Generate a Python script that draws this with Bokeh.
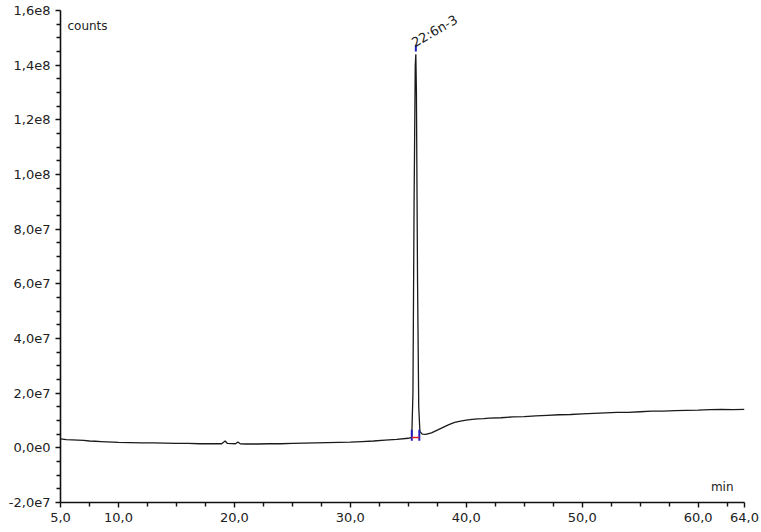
from bokeh.plotting import figure
from bokeh.models import FixedTicker, CustomJSTickFormatter, Label, Range1d
from bokeh.embed import file_html
from bokeh.resources import INLINE

# retention time (min) and detector signal (in 1e6 counts)
time_min = [5.0, 5.5, 6.0, 6.5, 7.0, 7.5, 8.0, 8.5, 9.0, 9.5, 10.0, 11.0, 12.0, 13.0, 14.0,
            15.0, 16.0, 17.0, 18.0, 18.9, 19.2, 19.4, 20.1, 20.3, 20.5, 21.0, 22.0, 23.0,
            24.0, 25.0, 26.0, 27.0, 28.0, 29.0, 30.0, 31.0, 32.0, 33.0, 34.0, 35.0, 35.3,
            35.4, 35.5, 35.6, 35.65, 35.7, 35.8, 35.9, 36.0, 36.2, 36.5, 37.0, 37.5, 38.0,
            38.5, 39.0, 39.5, 40.0, 40.5, 41.0, 41.5, 42.0, 43.0, 44.0, 45.0, 46.0, 47.0,
            48.0, 49.0, 50.0, 51.0, 52.0, 53.0, 54.0, 55.0, 56.0, 57.0, 58.0, 59.0, 60.0,
            61.0, 62.0, 63.0, 64.0]
signal_1e6 = [3.3, 3.0, 2.9, 2.8, 2.7, 2.5, 2.4, 2.3, 2.2, 2.1, 2.0, 1.9, 1.8, 1.8, 1.7,
              1.6, 1.6, 1.5, 1.5, 1.5, 2.5, 1.6, 1.5, 2.1, 1.5, 1.4, 1.4, 1.5,
              1.5, 1.6, 1.7, 1.8, 1.9, 2.0, 2.1, 2.3, 2.5, 2.8, 3.1, 3.5, 3.8,
              20.0, 90.0, 140.0, 144.0, 130.0, 60.0, 15.0, 6.0, 5.0, 4.9, 5.5, 6.5, 7.5,
              8.5, 9.3, 9.8, 10.1, 10.4, 10.6, 10.7, 10.9, 11.0, 11.3, 11.4, 11.7, 11.9,
              12.1, 12.2, 12.4, 12.6, 12.8, 13.0, 13.0, 13.2, 13.4, 13.4, 13.6, 13.7, 13.8,
              14.0, 14.1, 14.0, 14.1]

# integration marks of the identified peak
peak_name = "22:6n-3"
peak_apex_time = 35.65
peak_apex_1e6 = 144.0
peak_start_time = 35.3
peak_end_time = 35.95
peak_base_1e6 = 3.8

x_major = [5.0, 10.0, 20.0, 30.0, 40.0, 50.0, 60.0, 64.0]
x_minor = [7.5, 12.5, 15.0, 17.5, 22.5, 25.0, 27.5, 32.5, 35.0, 37.5, 42.5, 45.0, 47.5,
           52.5, 55.0, 57.5, 62.5]
y_major = [-2e7, 0, 2e7, 4e7, 6e7, 8e7, 1e8, 1.2e8, 1.4e8, 1.6e8]
y_minor = [v * 5e6 for v in range(-4, 33) if v % 4 != 0]

scale = 1e6
ys = [v * scale for v in signal_1e6]

p = figure(width=761, height=532, output_backend="svg", toolbar_location=None,
           x_range=Range1d(5.0, 64.0), y_range=Range1d(-2e7, 1.6e8),
           min_border_left=60, min_border_right=17, min_border_top=10, min_border_bottom=30)
p.outline_line_color = None
p.xgrid.visible = False
p.ygrid.visible = False
p.background_fill_color = "white"

p.line(time_min, ys, line_color="#1a1a1a", line_width=1.3)

# integration markers
p.segment(x0=[peak_start_time, peak_end_time], y0=[peak_base_1e6 * scale - 1.2e6] * 2,
          x1=[peak_start_time, peak_end_time], y1=[peak_base_1e6 * scale + 2.8e6] * 2,
          line_color="#2020c0", line_width=2)
p.segment(x0=[peak_start_time], y0=[peak_base_1e6 * scale], x1=[peak_end_time],
          y1=[peak_base_1e6 * scale], line_color="#e02020", line_width=1.5)
p.segment(x0=[peak_apex_time], y0=[peak_apex_1e6 * scale + 1.0e6], x1=[peak_apex_time],
          y1=[peak_apex_1e6 * scale + 3.5e6], line_color="#2020c0", line_width=2)

p.add_layout(Label(x=peak_apex_time + 0.05, y=peak_apex_1e6 * scale + 1.5e6, text=peak_name,
                   angle=30, angle_units="deg", text_font="DejaVu Sans", text_font_size="13px",
                   text_color="#222222", text_baseline="bottom", text_align="left"))
p.add_layout(Label(x=5.6, y=1.545e8, text="counts", text_font="DejaVu Sans",
                   text_font_size="12px", text_color="#222222", text_baseline="alphabetic"))
p.add_layout(Label(x=61.1, y=-1.45e7, text="min", text_font="DejaVu Sans",
                   text_font_size="12px", text_color="#222222", text_baseline="alphabetic"))

p.xaxis.ticker = FixedTicker(ticks=x_major, minor_ticks=x_minor)
p.yaxis.ticker = FixedTicker(ticks=y_major, minor_ticks=y_minor)
p.xaxis.formatter = CustomJSTickFormatter(code="return tick.toFixed(1).replace('.', ',');")
p.yaxis.formatter = CustomJSTickFormatter(
    code="return tick.toExponential(1).replace('.', ',').replace('e+', 'e');")

for ax in (p.xaxis, p.yaxis):
    ax.axis_line_color = "#111111"
    ax.axis_line_width = 1.6
    ax.major_tick_line_color = "#111111"
    ax.minor_tick_line_color = "#111111"
    ax.major_tick_line_width = 1.4
    ax.minor_tick_line_width = 1.4
    ax.major_tick_in = 0
    ax.minor_tick_in = 0
    ax.major_tick_out = 5
    ax.minor_tick_out = 4
    ax.major_label_text_font = "DejaVu Sans"
    ax.major_label_text_font_size = "13px"
    ax.major_label_text_color = "#222222"
p.xaxis.major_label_standoff = 5
p.yaxis.major_label_standoff = 5

open("out.html", "w").write(file_html(p, INLINE))
